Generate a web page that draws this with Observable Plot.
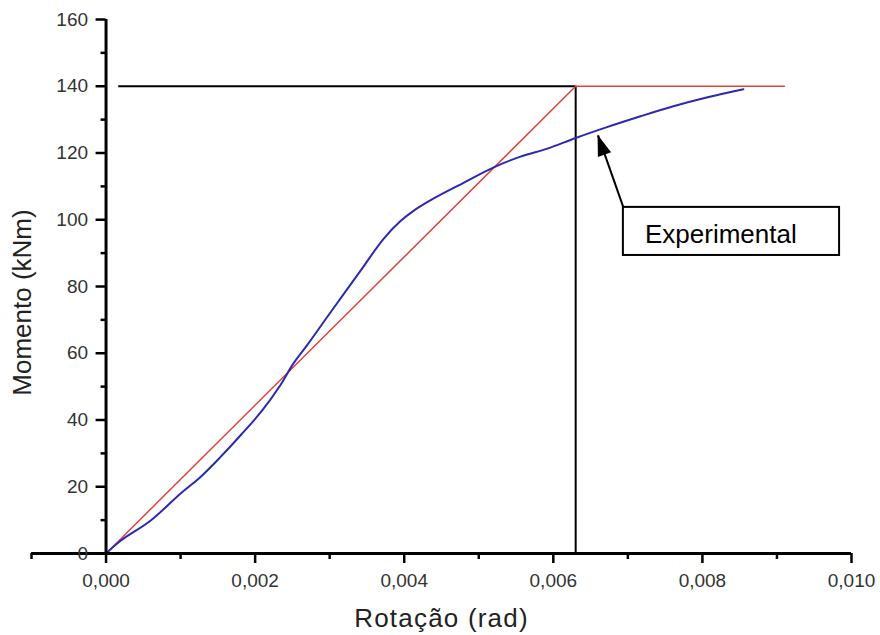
<!DOCTYPE html>
<html><head><meta charset="utf-8">
<script src="https://cdn.jsdelivr.net/npm/d3@7"></script>
<script src="https://cdn.jsdelivr.net/npm/@observablehq/plot@0.6"></script>
<style>body{margin:0;background:#fff;}</style>
</head><body><div id="chart"></div>
<script>
// Tick values
const xMajorTicks = [0, 0.002, 0.004, 0.006, 0.008, 0.010];
const xMinorTicks = [-0.001, 0.001, 0.003, 0.005, 0.007, 0.009];
const yMajorTicks = [0, 20, 40, 60, 80, 100, 120, 140, 160];
const yMinorTicks = [10, 30, 50, 70, 90, 110, 130, 150];

// Experimental curve (blue)
const blueX = [0, 0.0002, 0.0006, 0.001, 0.00126, 0.00153, 0.00182, 0.0021, 0.00234, 0.00251, 0.0027, 0.00301, 0.00341, 0.00372, 0.00395, 0.00412, 0.00439, 0.00479, 0.0052, 0.00556, 0.00592, 0.0063, 0.0067, 0.00717, 0.00761, 0.00807, 0.00855];
const blueY = [0, 3.9, 9.9, 18, 22.8, 28.8, 35.8, 43, 50.5, 56.8, 62.5, 72.2, 84.6, 94.2, 99.6, 102.6, 106.3, 111, 115.7, 118.9, 121.3, 124.5, 127.6, 131, 134, 136.7, 139.1];

// Bilinear idealisation (red)
const redX = [0, 0.0063, 0.0091];
const redY = [0, 140, 140];

// Reference lines (black)
const refMoment = 140;
const refRotation = 0.0063;
const refLineStart = 0.00017;

// Annotation
const noteLabel = "Experimental";
const noteBoxX = [0.00694, 0.00984];
const noteBoxY = [89.3, 103.7];
const noteTextPos = [0.00723, 92.9];
const arrowFrom = [0.00694, 103.7];
const arrowTo = [0.0066, 125.3];

const blue = blueX.map((x, i) => ({x, y: blueY[i]}));
const red = redX.map((x, i) => ({x, y: redY[i]}));
const fmtX = d => d.toFixed(3).replace(".", ",");
const FONT = "Liberation Sans, Arial, Helvetica, sans-serif";

const plot = Plot.plot({
  width: 880, height: 635,
  marginLeft: 31, marginRight: 29, marginTop: 19, marginBottom: 82,
  style: {fontFamily: FONT, background: "#fff"},
  x: {domain: [-0.001, 0.010], axis: null},
  y: {domain: [0, 160], axis: null},
  marks: [
    // reference lines
    Plot.ruleY([refMoment], {x1: refLineStart, x2: refRotation, stroke: "#000", strokeWidth: 2}),
    Plot.ruleX([refRotation], {y1: 0, y2: refMoment, stroke: "#000", strokeWidth: 2}),
    // curves
    Plot.line(red, {x: "x", y: "y", stroke: "#e0443a", strokeWidth: 1.5}),
    Plot.line(blue, {x: "x", y: "y", stroke: "#2a2ab0", strokeWidth: 2, curve: "catmull-rom"}),
    // axes lines
    Plot.ruleY([0], {stroke: "#000", strokeWidth: 3}),
    Plot.ruleX([0], {y1: 0, y2: 160, stroke: "#000", strokeWidth: 3}),
    // y ticks
    Plot.ruleY(yMajorTicks, {x1: 0, x2: 0, insetLeft: -10, stroke: "#000", strokeWidth: 2.5}),
    Plot.ruleY(yMinorTicks, {x1: 0, x2: 0, insetLeft: -5, stroke: "#000", strokeWidth: 2.5}),
    Plot.text(yMajorTicks, {x: 0, y: d => d, dx: -18, textAnchor: "end", lineAnchor: "middle", fontSize: 19, fill: "#333", text: d => String(d)}),
    // x ticks
    Plot.ruleX(xMajorTicks, {y1: 0, y2: 0, insetBottom: -10, stroke: "#000", strokeWidth: 2.5}),
    Plot.ruleX(xMinorTicks, {y1: 0, y2: 0, insetBottom: -6, stroke: "#000", strokeWidth: 2.5}),
    Plot.text(xMajorTicks, {x: d => d, y: 0, dy: 27, textAnchor: "middle", lineAnchor: "middle", fontSize: 19, fill: "#333", text: fmtX}),
    // axis titles
    Plot.text(["Rotação (rad)"], {frameAnchor: "bottom", dy: 65, textAnchor: "middle", lineAnchor: "middle", fontSize: 26, fill: "#222", text: d => d}),
    Plot.text(["Momento (kNm)"], {frameAnchor: "left", dx: -9, dy: 16, rotate: -90, textAnchor: "middle", lineAnchor: "middle", fontSize: 26, fill: "#222", text: d => d}),
    // annotation
    Plot.link([{x1: arrowFrom[0], y1: arrowFrom[1], x2: arrowTo[0], y2: arrowTo[1]}], {x1: "x1", y1: "y1", x2: "x2", y2: "y2", stroke: "#000", strokeWidth: 2}),
    Plot.rect([{x1: noteBoxX[0], x2: noteBoxX[1], y1: noteBoxY[0], y2: noteBoxY[1]}], {x1: "x1", x2: "x2", y1: "y1", y2: "y2", fill: "#fff", stroke: "#000", strokeWidth: 2}),
    Plot.text([noteLabel], {x: noteTextPos[0], y: noteTextPos[1], textAnchor: "start", lineAnchor: "bottom", fontSize: 26, fill: "#000", text: d => d})
  ]
});

// filled arrowhead, positioned via the plot's scales
(function () {
  const sx = plot.scale("x"), sy = plot.scale("y");
  const tx = sx.apply(arrowTo[0]), ty = sy.apply(arrowTo[1]);
  const bx = sx.apply(arrowFrom[0]), by = sy.apply(arrowFrom[1]);
  const dx = bx - tx, dy = by - ty, L = Math.hypot(dx, dy);
  const ux = dx / L, uy = dy / L, len = 21, hw = 7;
  const cx = tx + ux * len, cy = ty + uy * len;
  const pts = [[tx, ty], [cx - uy * hw, cy + ux * hw], [cx + uy * hw, cy - ux * hw]];
  d3.select(plot).append("polygon").attr("points", pts.map(p => p.join(",")).join(" ")).attr("fill", "#000");
  d3.select(plot).selectAll("text").filter(function () { return this.textContent === "Rotação (rad)"; })
    .style("letter-spacing", "1.2px");
})();

document.getElementById("chart").appendChild(plot);
</script>
</body></html>
